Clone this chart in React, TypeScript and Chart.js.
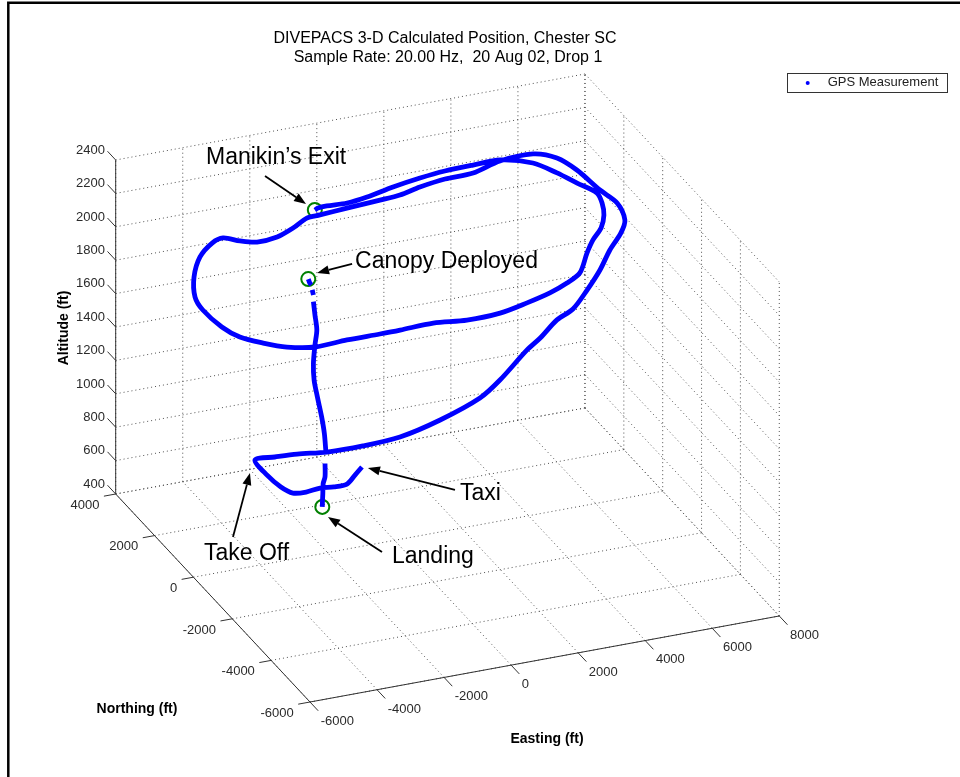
import React, { useEffect, useRef } from "react";
import { Chart, registerables } from "chart.js";

Chart.register(...registerables);

// ---------------- data (feet) ----------------
// GPS track: taxi, take-off, climb, two loops, exit, free fall, canopy descent, landing.
// null entries mark gaps in the GPS record.
const easting: (number | null)[] = [
  280, -90, -510, -910, -1290, -1740, -2100, -2260, -2330, -2280,
  -1860, -1420, -890, -150, 690, 1720, 2780, 3400, 4330, 4630,
  5170, 5520, 6010, 6500, 6830, 7200, 7330, 7260, 6890, 6540,
  6160, 5570, 4560, 3590, 2770, 1980, 1320, 730, -260, -1070,
  -1440, -1950, -2490, -3040, -3370, -3690, -4050, -4650, -5240, -5650,
  -5760, -5680, -5460, -5050, -4580, -3900, -2960, -2060, -1490, -520,
  330, 1300, 2150, 2890, 3480, 4010, 4590, 5010, 5460, 5800,
  6000, 6070, 5760, 5450, 5030, 4230, 3380, 2480, 1640, 720,
  -200, -870, -1470, -1750, -1880,
  null,
  -2040, -2000, -1960,
  null,
  -1940, -1910,
  null,
  -1910, -1870, -1820, -1870, -1910, -1890, -1810, -1700, -1630, -1590,
  null,
  -1610, -1610, -1660, -1670, -1680, -1680,
];
const northing: (number | null)[] = [
  2160, 1880, 1570, 1550, 1610, 1550, 1610, 1950, 2540, 3250,
  2950, 2560, 1940, 1370, 910, 620, 400, 440, 650, 490,
  560, 340, 460, 640, 700, 770, 790, 1070, 1320, 1900,
  2270, 2480, 2440, 2150, 2180, 2110, 2000, 2010, 2000, 1990,
  2030, 1860, 1750, 1830, 2140, 2460, 2400, 1990, 1280, 520,
  -70, -910, -1460, -1950, -2360, -2640, -2660, -2800, -2860, -2890,
  -3160, -3190, -3110, -3010, -2870, -2620, -1990, -1570, -1210, -770,
  -330, 50, 540, 1040, 1560, 1860, 1790, 1690, 1520, 1320,
  1070, 940, 950, 920, 860,
  null,
  920, 910, 900,
  null,
  890, 880,
  null,
  880, 870, 860, 870, 880, 880, 850, 820, 800, 790,
  null,
  800, 800, 810, 810, 810, 820,
];
const altitude: (number | null)[] = [
  560, 560, 560, 560, 560, 560, 560, 560, 560, 560,
  600, 650, 720, 800, 880, 980, 1100, 1180, 1300, 1380,
  1460, 1540, 1620, 1700, 1800, 1880, 1950, 2020, 2080, 2140,
  2180, 2200, 2200, 2200, 2190, 2180, 2170, 2160, 2150, 2140,
  2130, 2110, 2090, 2070, 2050, 2040, 2030, 2020, 2010, 2000,
  2000, 2000, 2000, 2010, 2020, 2030, 2040, 2060, 2070, 2080,
  2100, 2110, 2130, 2150, 2170, 2180, 2200, 2210, 2220, 2230,
  2240, 2250, 2260, 2270, 2280, 2290, 2300, 2310, 2320, 2325,
  2330, 2335, 2338, 2340, 2340,
  null,
  1925, 1900, 1890,
  null,
  1860, 1830,
  null,
  1790, 1710, 1620, 1530, 1420, 1320, 1220, 1100, 1000, 890,
  null,
  820, 740, 700, 640, 600, 560,
];

const eventNames = ["Manikin’s Exit", "Canopy Deployed", "Landing"];
const eventEasting = [-1880, -2040, -1680];
const eventNorthing = [860, 920, 820];
const eventAltitude = [2340, 1925, 560];

const eastingTicks = [-6000, -4000, -2000, 0, 2000, 4000, 6000, 8000];
const northingTicks = [-6000, -4000, -2000, 0, 2000, 4000];
const altitudeTicks = [400, 600, 800, 1000, 1200, 1400, 1600, 1800, 2000, 2200, 2400];

const titleLines = [
  "DIVEPACS 3-D Calculated Position, Chester SC",
  "Sample Rate: 20.00 Hz,  20 Aug 02, Drop 1",
];
const seriesLabel = "GPS Measurement";
const axisTitles = { easting: "Easting (ft)", northing: "Northing (ft)", altitude: "Altitude (ft)" };

// ---------------- 3-D view (orthographic, MATLAB-like) ----------------
const BOX = { eMin: -6000, eMax: 8000, nMin: -6000, nMax: 4000, zMin: 400, zMax: 2400 };
const VIEW = {
  origin: { x: 115.7, y: 494 }, // view position of (eMin, nMax, zMin)
  east: { x: 67.04 / 2000, y: -12.29 / 2000 },
  south: { x: 38.86 / 2000, y: 41.6 / 2000 },
  up: 33.4 / 200,
};
type Vec = { x: number; y: number };
function project(e: number, n: number, z: number): Vec {
  const de = e - BOX.eMin;
  const ds = BOX.nMax - n;
  return {
    x: VIEW.origin.x + de * VIEW.east.x + ds * VIEW.south.x,
    y: VIEW.origin.y + de * VIEW.east.y + ds * VIEW.south.y - (z - BOX.zMin) * VIEW.up,
  };
}

// annotations anchored on data points; offsets in view units
const annotations = [
  { text: eventNames[0], anchor: { kind: "event", i: 0 }, label: [-108.8, -46], tail: [-49.8, -34], head: [-8.8, -6] },
  { text: eventNames[1], anchor: { kind: "event", i: 1 }, label: [46.8, -11.1], tail: [43.8, -15.1], head: [8.8, -6.1] },
  { text: "Take Off", anchor: { kind: "track", i: 9 }, label: [-51, 100], tail: [-22, 77], head: [-5, 13] },
  { text: eventNames[2], anchor: { kind: "event", i: 2 }, label: [69.7, 56.1], tail: [59.7, 45.1], head: [5.7, 10.1] },
  { text: "Taxi", anchor: { kind: "track", i: 0 }, label: [98, 33], tail: [93, 23], head: [6, 1] },
];

const FONT = '"Liberation Sans", Arial, Helvetica, sans-serif';
const W = 960;
const H = 777;

function anchorView(a: { kind: string; i: number }): Vec {
  if (a.kind === "event") return project(eventEasting[a.i], eventNorthing[a.i], eventAltitude[a.i]);
  return project(easting[a.i] as number, northing[a.i] as number, altitude[a.i] as number);
}

const framePlugin = {
  id: "frame3d",
  beforeDatasetsDraw(chart: any) {
    const ctx: CanvasRenderingContext2D = chart.ctx;
    const xs = chart.scales.x;
    const ys = chart.scales.y;
    const px = (v: Vec) => ({ x: xs.getPixelForValue(v.x), y: ys.getPixelForValue(v.y) });
    const P = (e: number, n: number, z: number) => px(project(e, n, z));
    const seg = (a: Vec, b: Vec) => {
      ctx.beginPath();
      ctx.moveTo(a.x, a.y);
      ctx.lineTo(b.x, b.y);
      ctx.stroke();
    };
    const { eMin, eMax, nMin, nMax, zMin, zMax } = BOX;
    ctx.save();

    // figure border (left and top)
    ctx.strokeStyle = "#000";
    ctx.lineWidth = 2.5;
    const bl = px({ x: 8.3, y: H });
    const tl = px({ x: 8.3, y: 2.7 });
    const tr = px({ x: W, y: 2.7 });
    ctx.beginPath();
    ctx.moveTo(bl.x, bl.y);
    ctx.lineTo(tl.x, tl.y);
    ctx.lineTo(tr.x, tr.y);
    ctx.stroke();

    // dotted grid on floor and two back walls
    ctx.lineWidth = 1;
    ctx.strokeStyle = "#505050";
    ctx.setLineDash([1, 3]);
    for (const e of eastingTicks) {
      seg(P(e, nMin, zMin), P(e, nMax, zMin));
      seg(P(e, nMax, zMin), P(e, nMax, zMax));
    }
    for (const n of northingTicks) {
      seg(P(eMin, n, zMin), P(eMax, n, zMin));
      seg(P(eMax, n, zMin), P(eMax, n, zMax));
    }
    for (const z of altitudeTicks) {
      seg(P(eMin, nMax, z), P(eMax, nMax, z));
      seg(P(eMax, nMax, z), P(eMax, nMin, z));
    }
    ctx.setLineDash([]);

    // axis lines
    ctx.strokeStyle = "#333";
    seg(P(eMin, nMax, zMin), P(eMin, nMax, zMax));
    seg(P(eMin, nMax, zMin), P(eMin, nMin, zMin));
    seg(P(eMin, nMin, zMin), P(eMax, nMin, zMin));

    // ticks and tick labels
    ctx.fillStyle = "#2a2a2a";
    ctx.font = `13px ${FONT}`;
    const tickN = 422; // ft
    const tickE = 352; // ft
    ctx.textAlign = "right";
    ctx.textBaseline = "middle";
    for (const z of altitudeTicks) {
      const a = P(eMin, nMax, z);
      const b = P(eMin, nMax + tickN, z);
      seg(a, b);
      ctx.fillText(String(z), b.x - 2.5, b.y - 1);
    }
    for (const n of northingTicks) {
      const a = P(eMin, n, zMin);
      const b = P(eMin - tickE, n, zMin);
      seg(a, b);
      ctx.fillText(String(n), b.x - 4.5, b.y + 9);
    }
    ctx.textAlign = "left";
    for (const e of eastingTicks) {
      const a = P(e, nMin, zMin);
      const b = P(e, nMin - tickN, zMin);
      seg(a, b);
      ctx.fillText(String(e), b.x + 2.5, b.y + 10.5);
    }

    // axis titles
    ctx.fillStyle = "#000";
    ctx.font = `bold 14px ${FONT}`;
    ctx.textAlign = "center";
    ctx.textBaseline = "middle";
    const nt = px({ x: 137, y: 709 });
    ctx.fillText(axisTitles.northing, nt.x, nt.y);
    const et = px({ x: 547, y: 739 });
    ctx.fillText(axisTitles.easting, et.x, et.y);
    const at = px({ x: 64, y: 328 });
    ctx.save();
    ctx.translate(at.x, at.y);
    ctx.rotate(-Math.PI / 2);
    ctx.fillText(axisTitles.altitude, 0, 0);
    ctx.restore();

    // title
    ctx.font = `16px ${FONT}`;
    const t1 = px({ x: 445, y: 39 });
    const t2 = px({ x: 448, y: 58 });
    ctx.fillText(titleLines[0], t1.x, t1.y);
    ctx.fillText(titleLines[1], t2.x, t2.y);

    // legend
    const l0 = px({ x: 787.5, y: 73.5 });
    const l1 = px({ x: 947.5, y: 92.5 });
    ctx.fillStyle = "#fff";
    ctx.fillRect(l0.x, l0.y, l1.x - l0.x, l1.y - l0.y);
    ctx.strokeStyle = "#333";
    ctx.lineWidth = 1;
    ctx.strokeRect(l0.x, l0.y, l1.x - l0.x, l1.y - l0.y);
    const ld = px({ x: 807.7, y: 83 });
    ctx.fillStyle = "#0000ff";
    ctx.beginPath();
    ctx.arc(ld.x, ld.y, 2, 0, Math.PI * 2);
    ctx.fill();
    ctx.fillStyle = "#222";
    ctx.font = `13px ${FONT}`;
    ctx.textAlign = "left";
    const lt = px({ x: 827.7, y: 82.8 });
    ctx.fillText(seriesLabel, lt.x, lt.y);

    ctx.restore();
  },
  afterDatasetsDraw(chart: any) {
    const ctx: CanvasRenderingContext2D = chart.ctx;
    const xs = chart.scales.x;
    const ys = chart.scales.y;
    const px = (v: Vec) => ({ x: xs.getPixelForValue(v.x), y: ys.getPixelForValue(v.y) });
    ctx.save();
    ctx.fillStyle = "#000";
    ctx.strokeStyle = "#000";
    ctx.lineWidth = 1.8;
    ctx.font = `23px ${FONT}`;
    ctx.textAlign = "left";
    ctx.textBaseline = "alphabetic";
    for (const a of annotations) {
      const o = anchorView(a.anchor);
      const tp = px({ x: o.x + a.label[0], y: o.y + a.label[1] });
      ctx.fillText(a.text, tp.x, tp.y);
      const t = px({ x: o.x + a.tail[0], y: o.y + a.tail[1] });
      const h = px({ x: o.x + a.head[0], y: o.y + a.head[1] });
      const ang = Math.atan2(h.y - t.y, h.x - t.x);
      const len = 12;
      const hw = 4.5;
      const bx = h.x - len * Math.cos(ang);
      const by = h.y - len * Math.sin(ang);
      ctx.beginPath();
      ctx.moveTo(t.x, t.y);
      ctx.lineTo(bx, by);
      ctx.stroke();
      ctx.beginPath();
      ctx.moveTo(h.x, h.y);
      ctx.lineTo(bx + hw * Math.sin(ang), by - hw * Math.cos(ang));
      ctx.lineTo(bx - hw * Math.sin(ang), by + hw * Math.cos(ang));
      ctx.closePath();
      ctx.fill();
    }
    ctx.restore();
  },
};

export default function App() {
  const ref = useRef<HTMLCanvasElement | null>(null);
  useEffect(() => {
    const canvas = ref.current;
    if (!canvas) return;
    const track = easting.map((e, i) => {
      const n = northing[i];
      const z = altitude[i];
      if (e === null || n === null || z === null) return { x: null, y: null };
      return project(e, n, z);
    });
    const events = eventEasting.map((e, i) => project(e, eventNorthing[i], eventAltitude[i]));
    const chart = new Chart(canvas, {
      type: "scatter",
      data: {
        datasets: [
          {
            label: seriesLabel,
            data: track as any,
            showLine: true,
            borderColor: "#0000ff",
            backgroundColor: "#0000ff",
            borderWidth: 4.8,
            borderJoinStyle: "round",
            pointRadius: 0,
            tension: 0.3,
            spanGaps: false,
          },
          {
            label: "Events",
            data: events as any,
            showLine: false,
            pointStyle: "circle",
            pointRadius: 7,
            borderColor: "#008000",
            backgroundColor: "rgba(0,0,0,0)",
            borderWidth: 2,
          },
        ],
      },
      options: {
        responsive: false,
        devicePixelRatio: 1,
        animation: false,
        events: [],
        layout: { padding: 0, autoPadding: false },
        plugins: {
          legend: { display: false },
          tooltip: { enabled: false },
          title: { display: false },
        },
        scales: {
          x: { type: "linear", min: 0, max: W, display: false },
          y: { type: "linear", min: 0, max: H, reverse: true, display: false },
        },
      },
      plugins: [framePlugin],
    } as any);
    return () => chart.destroy();
  }, []);
  return (
    <div style={{ position: "fixed", left: 0, top: 0, width: W, height: H, background: "#fff" }}>
      <canvas ref={ref} width={W} height={H} style={{ display: "block", width: W, height: H }} />
    </div>
  );
}
